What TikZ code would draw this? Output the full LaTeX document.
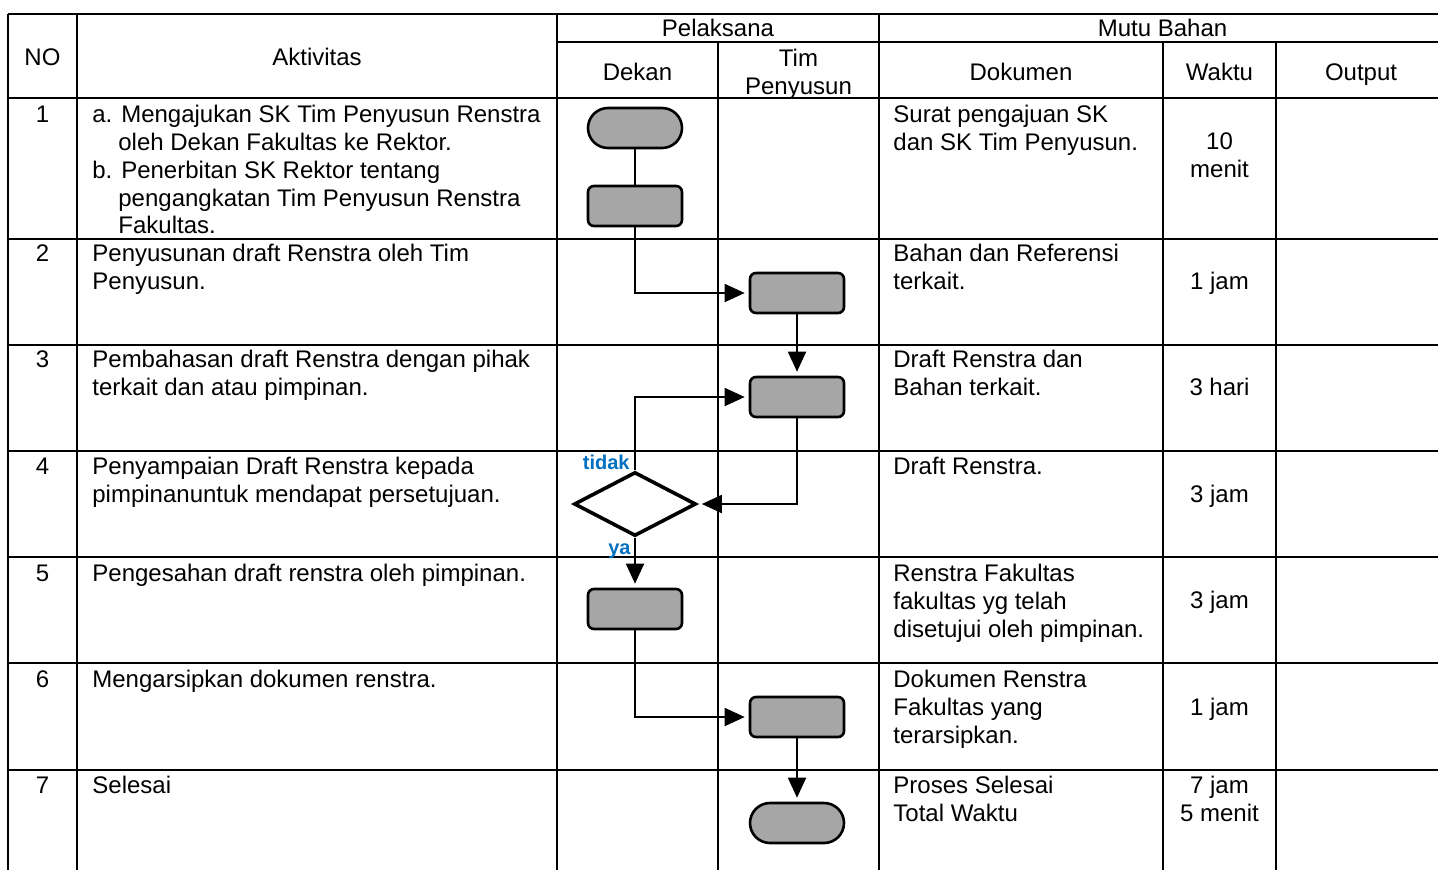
\documentclass[tikz,border=0pt]{standalone}
\usepackage{fontspec}
\setmainfont{Liberation Sans}
\usetikzlibrary{shapes.geometric, arrows.meta}
\definecolor{boxgray}{HTML}{A6A6A6}
\definecolor{lblblue}{HTML}{0070C0}
\tikzset{
  txt/.style={font=\fontsize{12}{13.85}\selectfont, inner sep=0pt},
  cellL/.style={txt, anchor=north west, align=left},
  cellC/.style={txt, anchor=north, align=center},
  grid/.style={line width=1pt},
  proc/.style={draw, line width=1.3pt, fill=boxgray, rounded corners=3pt, minimum width=47pt, minimum height=20pt, inner sep=0pt},
  term/.style={proc, rounded corners=10pt},
  decision/.style={diamond, draw, line width=1.8pt, minimum width=61pt, minimum height=32pt, inner sep=0pt},
  conn/.style={line width=0.9pt},
  flow/.style={conn, -{Triangle[length=10pt,width=9pt]}, shorten >=2pt},
  lbl/.style={font=\fontsize{10}{12}\selectfont\bfseries, text=lblblue, inner sep=0pt},
}
\begin{document}
\begin{tikzpicture}[x=0.5pt, y=-0.5pt]
\useasboundingbox (0,0) rectangle (1438,869);
% grid
\draw[grid] (8,14) -- (1446,14);
\draw[grid] (557,42) -- (1446,42);
\draw[grid] (8,98) -- (1446,98);
\foreach \yy in {239,345,451,557,663,770} \draw[grid] (8,\yy) -- (1446,\yy);
\foreach \xx in {8,77,557,879,1446} \draw[grid] (\xx,14) -- (\xx,880);
\foreach \xx in {718,1163,1276} \draw[grid] (\xx,42) -- (\xx,880);
% headers
\node[txt, anchor=base] (hNO) at (42.5,65.5) {NO};
\node[txt, anchor=base] (hAkt) at (317,65.5) {Aktivitas};
\node[txt, anchor=base] (hPel) at (718,36.5) {Pelaksana};
\node[txt, anchor=base] (hMutu) at (1162.5,36.5) {Mutu Bahan};
\node[txt, anchor=base] (hDek) at (637.5,80.5) {Dekan};
\node[cellC] (hTim) at (798.5,46.5) {\rule{0pt}{10pt}Tim\\Penyusun};
\node[txt, anchor=base] (hDok) at (1021,80.5) {Dokumen};
\node[txt, anchor=base] (hWak) at (1219.5,80.5) {Waktu};
\node[txt, anchor=base] (hOut) at (1361,80.5) {Output};
% numbers
\node[txt, anchor=base] (n1) at (42.5,122.5) {1};
\node[txt, anchor=base] (n2) at (42.5,261.5) {2};
\node[txt, anchor=base] (n3) at (42.5,367.5) {3};
\node[txt, anchor=base] (n4) at (42.5,474.5) {4};
\node[txt, anchor=base] (n5) at (42.5,581.5) {5};
\node[txt, anchor=base] (n6) at (42.5,687.5) {6};
\node[txt, anchor=base] (n7) at (42.5,793.5) {7};
% activities
\node[cellL] (a1) at (92,102.5) {\rule{0pt}{10pt}a. Mengajukan SK Tim Penyusun Renstra\\\hspace*{13pt}oleh Dekan Fakultas ke Rektor.\\b. Penerbitan SK Rektor tentang\\\hspace*{13pt}pengangkatan Tim Penyusun Renstra\\\hspace*{13pt}Fakultas.};
\node[cellL] (a2) at (92,241.5) {\rule{0pt}{10pt}Penyusunan draft Renstra oleh Tim\\Penyusun.};
\node[cellL] (a3) at (92,347.5) {\rule{0pt}{10pt}Pembahasan draft Renstra dengan pihak\\terkait dan atau pimpinan.};
\node[cellL] (a4) at (92,454.5) {\rule{0pt}{10pt}Penyampaian Draft Renstra kepada\\pimpinanuntuk mendapat persetujuan.};
\node[cellL] (a5) at (92,561.5) {\rule{0pt}{10pt}Pengesahan draft renstra oleh pimpinan.};
\node[cellL] (a6) at (92,667.5) {\rule{0pt}{10pt}Mengarsipkan dokumen renstra.};
\node[cellL] (a7) at (92,773.5) {\rule{0pt}{10pt}Selesai};
% dokumen
\node[cellL] (d1) at (893,102.5) {\rule{0pt}{10pt}Surat pengajuan SK\\dan SK Tim Penyusun.};
\node[cellL] (d2) at (893,241.5) {\rule{0pt}{10pt}Bahan dan Referensi\\terkait.};
\node[cellL] (d3) at (893,347.5) {\rule{0pt}{10pt}Draft Renstra dan\\Bahan terkait.};
\node[cellL] (d4) at (893,454.5) {\rule{0pt}{10pt}Draft Renstra.};
\node[cellL] (d5) at (893,561.5) {\rule{0pt}{10pt}Renstra Fakultas\\fakultas yg telah\\disetujui oleh pimpinan.};
\node[cellL] (d6) at (893,667.5) {\rule{0pt}{10pt}Dokumen Renstra\\Fakultas yang\\terarsipkan.};
\node[cellL] (d7) at (893,773.5) {\rule{0pt}{10pt}Proses Selesai\\Total Waktu};
% waktu
\node[cellC] (w1) at (1219.5,129.5) {\rule{0pt}{10pt}10\\menit};
\node[cellC] (w2) at (1219.5,269.5) {\rule{0pt}{10pt}1 jam};
\node[cellC] (w3) at (1219.5,375.5) {\rule{0pt}{10pt}3 hari};
\node[cellC] (w4) at (1219.5,482.5) {\rule{0pt}{10pt}3 jam};
\node[cellC] (w5) at (1219.5,588.5) {\rule{0pt}{10pt}3 jam};
\node[cellC] (w6) at (1219.5,695.5) {\rule{0pt}{10pt}1 jam};
\node[cellC] (w7) at (1219.5,773.5) {\rule{0pt}{10pt}7 jam\\5 menit};
% flow shapes
\node[term] (t1) at (635,128) {};
\node[proc] (b1) at (635,206) {};
\node[proc] (b2) at (797,293) {};
\node[proc] (b3) at (797,397) {};
\node[decision] (dd) at (635,504) {};
\node[proc] (b5) at (635,609) {};
\node[proc] (b6) at (797,717) {};
\node[term] (t2) at (797,823) {};
% connectors
\draw[conn] (t1) -- (b1);
\draw[flow] (b1.south) |- (b2.west);
\draw[flow] (b2) -- (b3);
\draw[flow] (dd.north) |- (b3.west);
\draw[flow] (b3.south) |- (dd.east);
\draw[flow] (dd) -- (b5);
\draw[flow] (b5.south) |- (b6.west);
\draw[flow] (b6) -- (t2);
% labels
\node[lbl, anchor=base east] (tidak) at (630,469) {tidak};
\node[lbl, anchor=base east] (ya) at (631,554) {ya};
\end{tikzpicture}
\end{document}
